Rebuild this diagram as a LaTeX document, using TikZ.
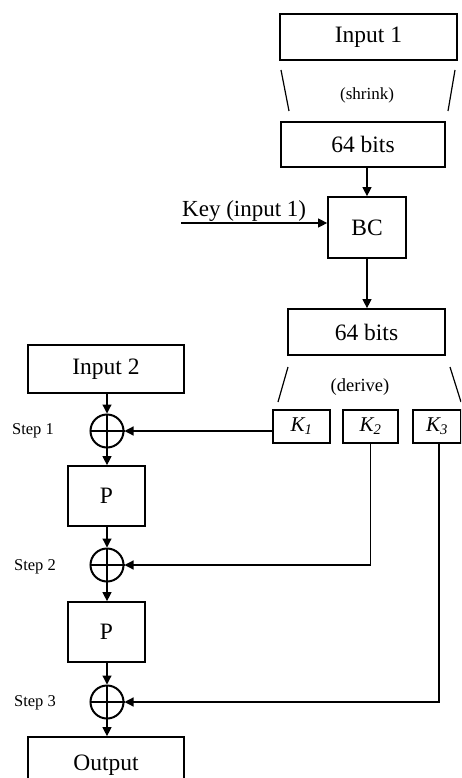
\documentclass[tikz,border=0pt]{standalone}
\usepackage{fontspec}
\setmainfont{Liberation Serif}
\usetikzlibrary{arrows.meta}
\begin{document}
\begin{tikzpicture}[x=1pt,y=-1pt,
  box/.style={draw,line width=1.7pt,inner sep=0pt,font=\fontsize{23.5}{26}\selectfont},
  kbox/.style={draw,line width=1.7pt,inner sep=0pt,minimum width=#1,minimum height=33,font=\fontsize{21}{24}\selectfont\itshape},
  xor/.style={draw,circle,line width=2pt,minimum size=33,inner sep=0pt},
  conn/.style={line width=1.2pt,-{Triangle[length=9pt,width=9pt]}},
  plain/.style={line width=1.2pt},
  small/.style={font=\fontsize{16.5}{19}\selectfont},
]
\clip (0,0) rectangle (461,778);
\fill[white] (0,0) rectangle (461,778);
% top chain
\node[box,minimum width=177,minimum height=46] (in1) at (368.5,37) {Input 1};
\node[box,minimum width=164,minimum height=45] (b1) at (363,144.5) {64 bits};
\node[box,minimum width=78,minimum height=61] (bc) at (367,227.5) {BC};
\node[box,minimum width=157,minimum height=46] (b2) at (366.5,332) {64 bits};
\node[small,font=\fontsize{17}{20}\selectfont] (shrink) at (367,95) {(shrink)};
\node[small,font=\fontsize{18.5}{21}\selectfont] (derive) at (360,387) {(derive)};
\draw[plain] (281,70) -- (289,111);
\draw[plain] (455,70) -- (448,111);
\draw[plain] (288,367) -- (278,402);
\draw[plain] (450,367) -- (461,402);
\draw[conn] (b1.south -| bc.north) -- (bc.north);
\draw[conn] (bc.south) -- (bc.south |- b2.north);
\coordinate (keystart) at (181,223);
\node[anchor=base west,inner sep=0pt,font=\fontsize{23}{26}\selectfont] (keylab) at (182,216) {Key (input 1)};
\draw[conn] (keystart) -- (keystart -| bc.west);
% keys
\node[kbox=57] (k1) at (301.5,426.5) {K\textsubscript{\itshape 1}};
\node[kbox=55] (k2) at (370.5,426.5) {K\textsubscript{\itshape 2}};
\node[kbox=48] (k3) at (437,426.5) {K\textsubscript{\itshape 3}};
% left chain
\node[box,minimum width=156,minimum height=48] (in2) at (106,369) {Input 2};
\node[xor] (x1) at (107,431) {};
\node[box,minimum width=77,minimum height=60] (p1) at (106.5,496) {P};
\node[xor] (x2) at (107,565) {};
\node[box,minimum width=77,minimum height=60] (p2) at (106.5,632) {P};
\node[xor] (x3) at (107,702) {};
\node[box,minimum width=156,minimum height=56,text depth=0pt] (out) at (106,765) {\raisebox{4pt}{Output}};
\foreach \c in {x1,x2,x3}{
  \draw[line width=1.5pt] (\c.north) -- (\c.south) (\c.west) -- (\c.east);
}
\node[small] (s1) at (33,431) {Step 1};
\node[small] (s2) at (35,567) {Step 2};
\node[small] (s3) at (35,703) {Step 3};
\draw[conn] (in2.south -| x1.north) -- (x1.north);
\draw[conn] (x1.south) -- (x1.south |- p1.north);
\draw[conn] (p1.south -| x2.north) -- (x2.north);
\draw[conn] (x2.south) -- (x2.south |- p2.north);
\draw[conn] (p2.south -| x3.north) -- (x3.north);
\draw[conn] (x3.south) -- (x3.south |- out.north);
% key connections
\draw[conn] (k1.west |- x1.east) -- (x1.east);
\draw[conn] (k2.south) -- (k2.south |- x2.east) -- (x2.east);
\draw[conn] ([xshift=2pt]k3.south) -- ([xshift=2pt]k3.south |- x3.east) -- (x3.east);
\end{tikzpicture}
\end{document}
